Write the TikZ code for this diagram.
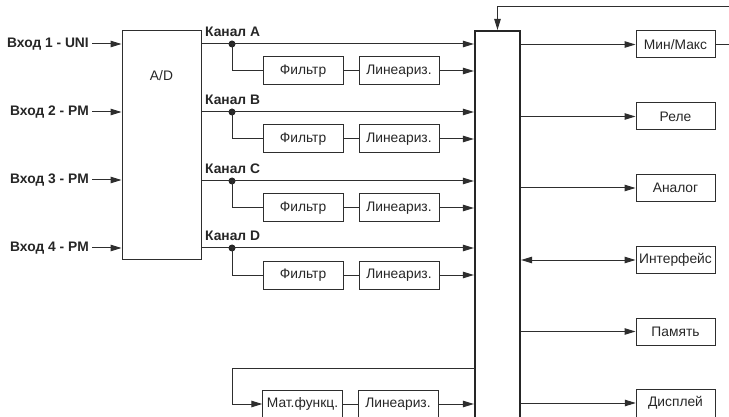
\documentclass[tikz,border=0pt]{standalone}
\usepackage{fontspec}
\setmainfont{Liberation Sans}
\usetikzlibrary{arrows.meta}
\begin{document}
\begin{tikzpicture}[x=1pt,y=-1pt,
  ln/.style={line width=1pt,draw=black!82},
  arr/.style={ln,-{Triangle[length=11pt,width=6.5pt]}},
  darr/.style={ln,{Triangle[length=11pt,width=6.5pt]}-{Triangle[length=11pt,width=6.5pt]}},
  txt/.style={font=\fontsize{13.8}{16}\selectfont,text=black!85},
  inlbl/.style={txt,font=\fontsize{13.8}{16}\selectfont\bfseries,anchor=east,inner sep=3pt},
  chlbl/.style={txt,font=\fontsize{13.8}{16}\selectfont\bfseries,anchor=west,inner sep=0pt},
  blk/.style={txt,ln,draw,minimum width=80pt,minimum height=28pt,inner sep=0pt},
  outb/.style={txt,ln,draw,minimum width=79pt,minimum height=27pt,inner sep=0pt},
  opn/.style={txt,minimum width=80pt,minimum height=28pt,inner sep=0pt},
  dot/.style={circle,fill=black!85,inner sep=0pt,minimum size=7pt}
]
\useasboundingbox (0,0) rectangle (729,417);
\clip (0,0) rectangle (729,417);

% A/D converter
\node[ln,draw,minimum width=79pt,minimum height=228pt,inner sep=0pt] (ad) at (161.5,145) {};
\node[txt] (adl) at (161.5,76) {A/D};

% central bus block
\node[draw=black!85,line width=2.2pt,minimum width=45pt,minimum height=430pt,inner sep=0pt] (bus) at (497.5,246) {};

% inputs
\node[inlbl] (in1) at (92,44) {Вход 1 - UNI};
\node[inlbl] (in2) at (92,112) {Вход 2 - PM};
\node[inlbl] (in3) at (92,180) {Вход 3 - PM};
\node[inlbl] (in4) at (92,248) {Вход 4 - PM};
\foreach \i in {1,2,3,4}{
  \draw[arr] (in\i.east) -- (in\i.east -| ad.west);
}

% channels
\foreach \n/\c/\y in {A/A/44, B/B/112, C/C/181, D/D/248}{
  \node[chlbl] (ch\n) at (205,\y-12) {Канал \c};
  \coordinate (o\n) at (201,\y);
  \node[dot] (d\n) at (232,\y) {};
  \draw[arr] (o\n) -- (o\n -| bus.west);
  \node[blk] (f\n) at (303,\y+27) {Фильтр};
  \node[blk] (l\n) at (399,\y+27) {Линеариз.};
  \draw[ln] (d\n.center) |- (f\n.west);
  \draw[ln] (f\n.east) -- (l\n.west);
  \draw[arr] (l\n.east) -- (l\n.east -| bus.west);
}

% math function row (bottom, cut off)
\coordinate (mt) at (475,368);
\coordinate (mc) at (232,368);
\node[opn] (mf) at (302.5,404) {Мат.функц.};
\node[opn] (ml) at (398,404) {Линеариз.};
\draw[ln] (262.5,425) |- (342.5,390) -- (342.5,425);
\draw[ln] (358,425) |- (438,390) -- (438,425);
\draw[ln] (mt) -- (mc);
\draw[arr] (mc) |- (mf.west);
\draw[ln] (mf.east) -- (ml.west);
\draw[arr] (ml.east) -- (ml.east -| bus.west);

% outputs
\node[outb] (o1) at (675.5,44.5) {Мин/Макс};
\node[outb] (o2) at (675.5,116.5) {Реле};
\node[outb] (o3) at (675.5,188) {Аналог};
\node[outb] (o4) at (675.5,260) {Интерфейс};
\node[outb] (o5) at (675.5,331.5) {Память};
\node[opn,minimum width=79pt] (o6) at (675.5,403) {Дисплей};
\draw[ln] (636,425) |- (715,389) -- (715,425);
\draw[arr] (o1.west -| bus.east) -- (o1.west);
\draw[arr] (o2.west -| bus.east) -- (o2.west);
\draw[arr] (o3.west -| bus.east) -- (o3.west);
\draw[darr] (o4.west -| bus.east) -- (o4.west);
\draw[arr] (o5.west -| bus.east) -- (o5.west);
\draw[arr] (o6.west -| bus.east) -- (o6.west);

% feedback
\coordinate (fb) at (735,7);
\coordinate (mx) at (735,44.5);
\draw[arr] (fb) -| (bus.north);
\draw[ln] (o1.east) -- (mx);
\end{tikzpicture}
\end{document}
